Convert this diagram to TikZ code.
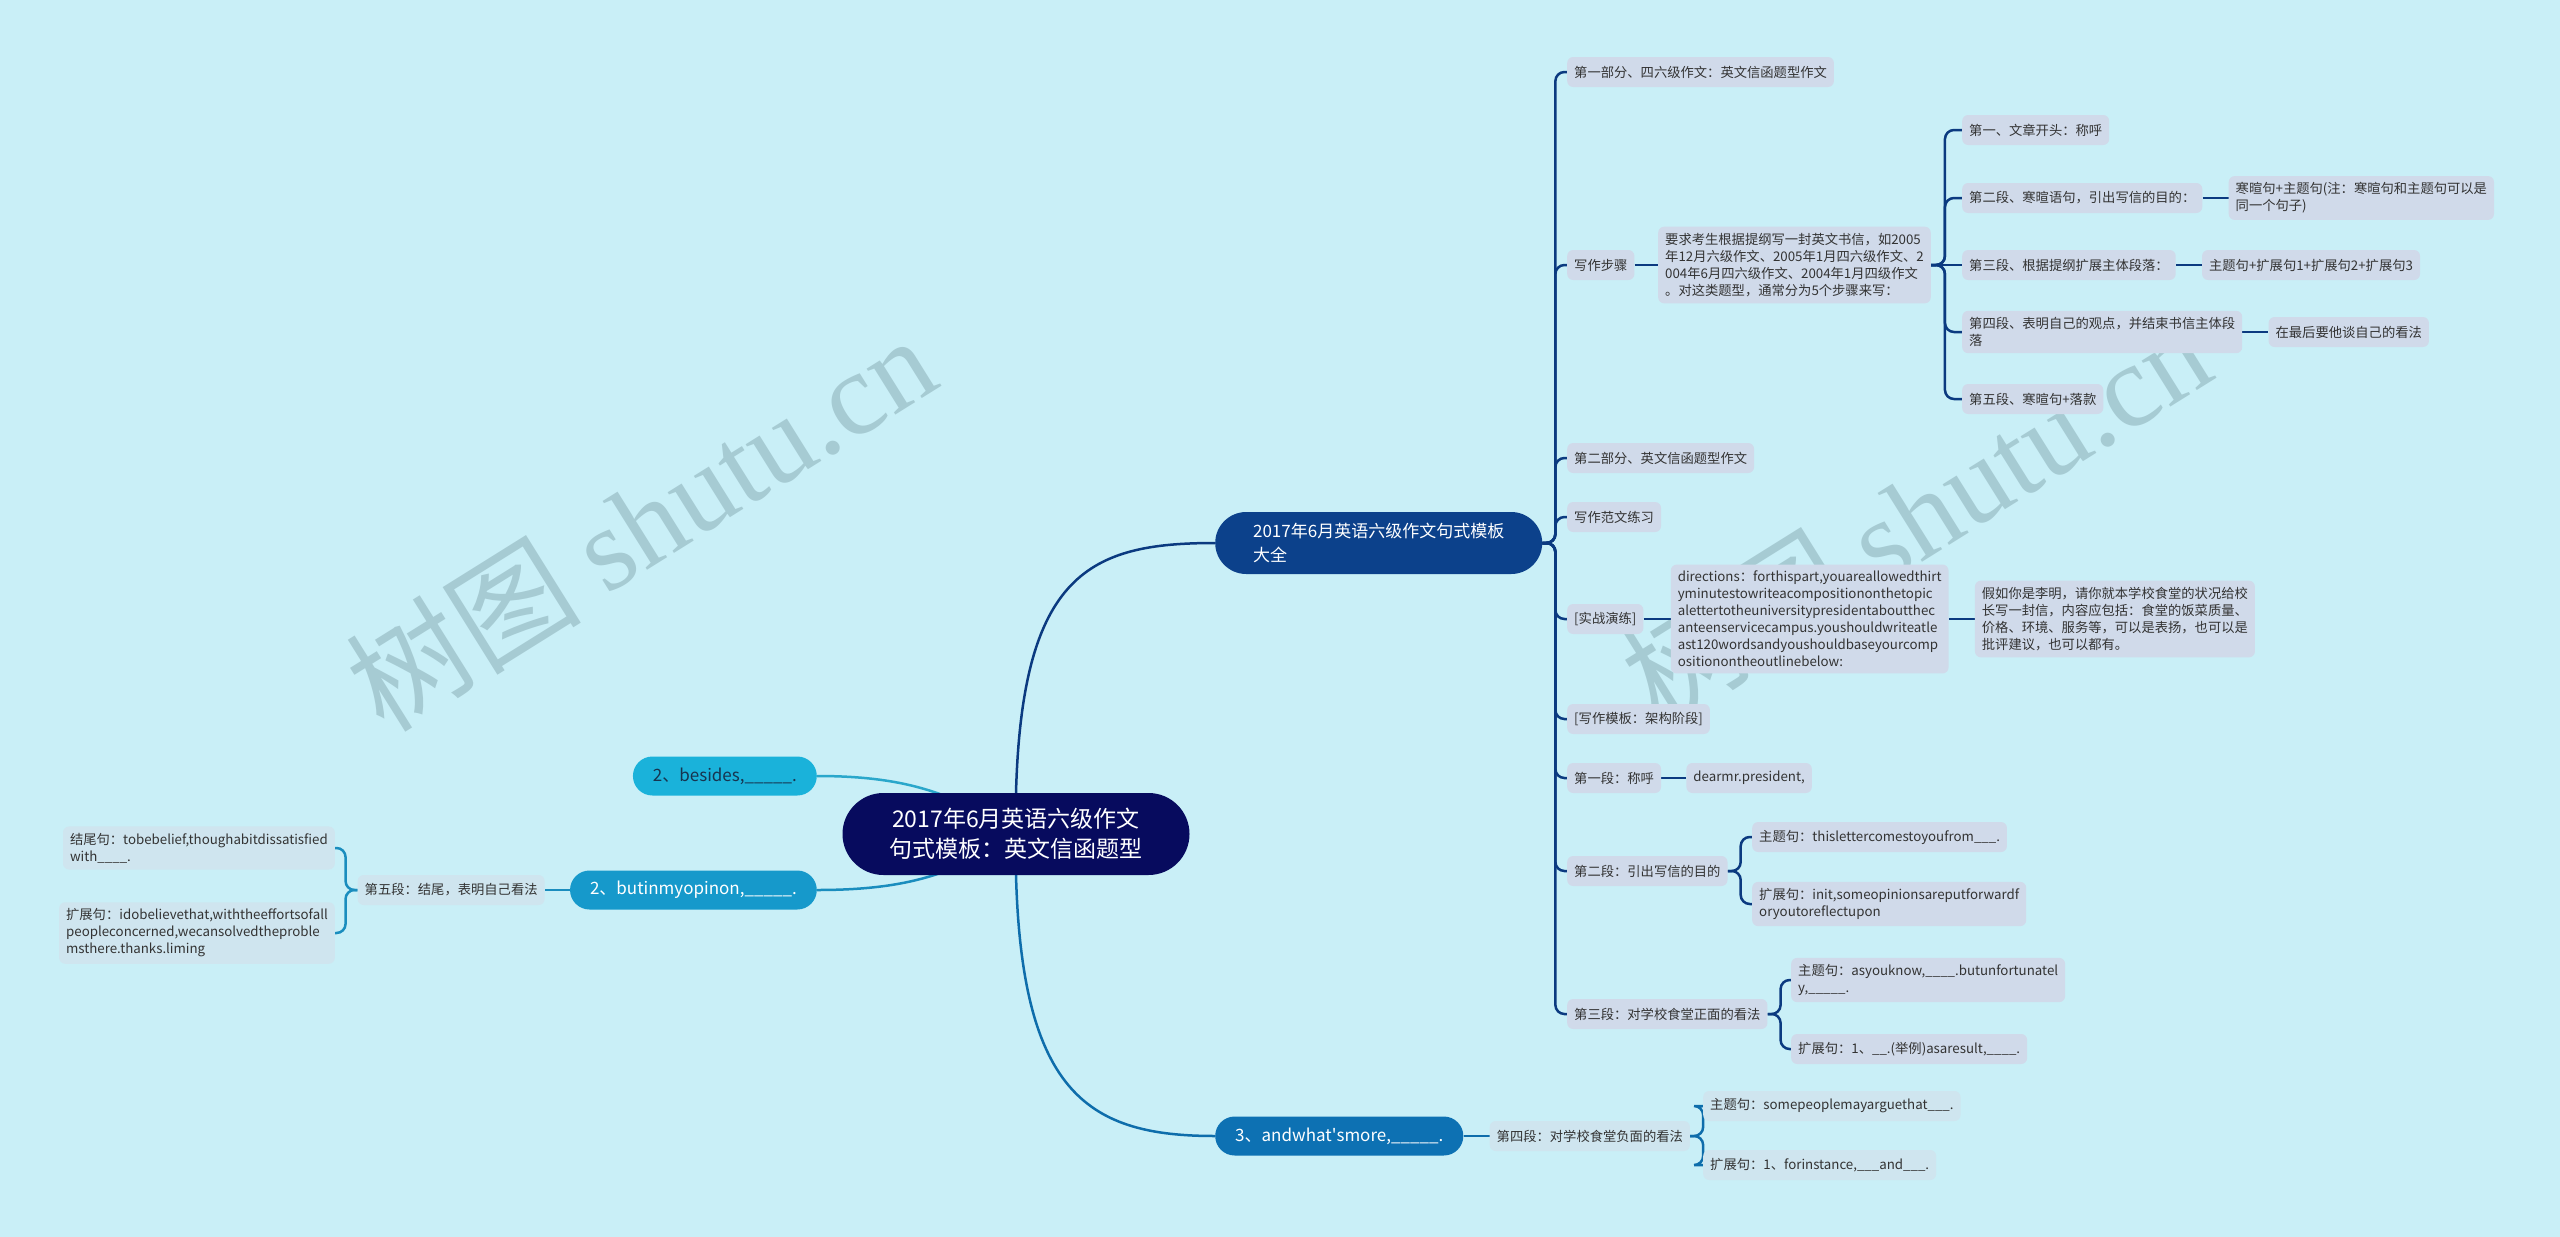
\documentclass[tikz,border=0pt]{standalone}
\usepackage{fontspec}
\setmainfont{Noto Sans CJK SC}
\newfontfamily\wmserif{Liberation Serif}
\newfontfamily\wmcjk{Noto Sans CJK SC}
\usetikzlibrary{backgrounds,positioning}
\definecolor{bgc}{HTML}{C9EFF7}
\definecolor{rootc}{HTML}{070B5E}
\definecolor{navyc}{HTML}{0C418B}
\definecolor{navyl}{HTML}{0B3A80}
\definecolor{cyanc}{HTML}{1AB2DA}
\definecolor{cyanl}{HTML}{2AA7CB}
\definecolor{midc}{HTML}{1699CB}
\definecolor{midl}{HTML}{1A8DBE}
\definecolor{bluec}{HTML}{0D71B3}
\definecolor{bluel}{HTML}{0E6DAB}
\definecolor{nfill}{HTML}{D0DAEA}
\definecolor{lfill}{HTML}{CFE5EF}
\definecolor{txt}{HTML}{333333}
\definecolor{bestxt}{HTML}{17344F}
\definecolor{wmc}{HTML}{8FB3BB}
\tikzset{
  rootn/.style={fill=rootc, text=white, rounded corners=41pt, minimum height=82pt,
    minimum width=347pt, align=center, font=\fontsize{23}{30}\selectfont, inner sep=0pt},
  pill/.style={font=\fontsize{17}{24}\selectfont, inner xsep=20pt, inner ysep=0pt, align=left},
  leaf/.style={fill=nfill, text=txt, rounded corners=6pt, inner xsep=7pt, inner ysep=6.5pt,
    align=left, font=\fontsize{13.3}{17}\selectfont, minimum height=30pt},
  leafl/.style={leaf, fill=lfill},
  navyln/.style={draw=navyl, line width=2.5pt, rounded corners=9pt},
  bluln/.style={draw=bluel, line width=2.5pt, rounded corners=9pt},
  midln/.style={draw=midl, line width=2.5pt, rounded corners=9pt},
  cyaln/.style={draw=cyanl, line width=2.5pt},
  curv/.style={line width=2.5pt},
  wmark/.style={text=wmc, opacity=0.6, rotate=32, inner sep=0pt}
}
\begin{document}
\begin{tikzpicture}[x=1pt,y=-1pt]
\useasboundingbox (0,0) rectangle (2560,1237);
\begin{scope}[on background layer]
\fill[bgc] (0,0) rectangle (2560,1237);
\node[wmark] (wm1) at (640,522) {\fontsize{118}{118}\selectfont\wmcjk 树图 \wmserif shutu.cn};
\node[wmark] (wm2) at (1915,514) {\fontsize{118}{118}\selectfont\wmcjk 树图 \wmserif shutu.cn};
\end{scope}

% root and main branches
\node[rootn] (root) at (1016,834) {2017年6月英语六级作文\\句式模板：英文信函题型};
\node[pill, fill=navyc, text=white, minimum width=327pt, minimum height=62pt,
  rounded corners=31pt, anchor=west] (b1) at (1215,543) {2017年6月英语六级作文句式模板\\大全};
\node[pill, fill=cyanc, text=bestxt, minimum width=182pt, minimum height=39pt,
  rounded corners=19.5pt, anchor=east] (bes) at (817,776) {2、besides,\_\_\_\_\_.};
\node[pill, fill=midc, text=white, minimum width=246pt, minimum height=39pt,
  rounded corners=19.5pt, anchor=east] (but) at (817,890) {2、butinmyopinon,\_\_\_\_\_.};
\node[pill, fill=bluec, text=white, minimum width=238pt, minimum height=39pt,
  rounded corners=19.5pt, anchor=west] (b4) at (1215,1136) {3、andwhat\textquotesingle smore,\_\_\_\_\_.};

% level 2 (right, navy)
\node[leaf, anchor=west] (a1) at (1567,72) {第一部分、四六级作文：英文信函题型作文};
\node[leaf, anchor=west] (a2) at (1567,265) {写作步骤};
\node[leaf, anchor=west] (a3) at (1567,458) {第二部分、英文信函题型作文};
\node[leaf, anchor=west] (a4) at (1567,517) {写作范文练习};
\node[leaf, anchor=west] (a5) at (1567,619) {[实战演练]};
\node[leaf, anchor=west] (a6) at (1567,719) {[写作模板：架构阶段]};
\node[leaf, anchor=west] (a7) at (1567,778) {第一段：称呼};
\node[leaf, anchor=west] (a8) at (1567,871) {第二段：引出写信的目的};
\node[leaf, anchor=west] (a9) at (1567,1014) {第三段：对学校食堂正面的看法};

% 写作步骤 subtree
\node[leaf, anchor=west] (s1) at (1658,265) {要求考生根据提纲写一封英文书信，如2005\\年12月六级作文、2005年1月四六级作文、2\\004年6月四六级作文、2004年1月四级作文\\。对这类题型，通常分为5个步骤来写：};
\node[leaf, anchor=west] (t1) at (1962,130) {第一、文章开头：称呼};
\node[leaf, anchor=west] (t2) at (1962,198) {第二段、寒暄语句，引出写信的目的：};
\node[leaf, anchor=west] (t3) at (1962,265) {第三段、根据提纲扩展主体段落：};
\node[leaf, anchor=west] (t4) at (1962,332) {第四段、表明自己的观点，并结束书信主体段\\落};
\node[leaf, anchor=west] (t5) at (1962,399) {第五段、寒暄句+落款};
\node[leaf, right=26pt of t2] (u2) {寒暄句+主题句(注：寒暄句和主题句可以是\\同一个句子)};
\node[leaf, right=26pt of t3] (u3) {主题句+扩展句1+扩展句2+扩展句3};
\node[leaf, right=26pt of t4] (u4) {在最后要他谈自己的看法};

% 实战演练 subtree
\node[leaf, right=27pt of a5] (dir) {directions：forthispart,youareallowedthirt\\yminutestowriteacompositiononthetopic\\alettertotheuniversitypresidentaboutthec\\anteenservicecampus.youshouldwriteatle\\ast120wordsandyoushouldbaseyourcomp\\ositionontheoutlinebelow:};
\node[leaf, right=26pt of dir] (jia) {假如你是李明，请你就本学校食堂的状况给校\\长写一封信，内容应包括：食堂的饭菜质量、\\价格、环境、服务等，可以是表扬，也可以是\\批评建议，也可以都有。};

% 第一段 / 第二段 / 第三段
\node[leaf, right=25pt of a7] (dear) {dearmr.president,};
\node[leaf, anchor=west] (p1) at (1752,837) {主题句：thislettercomestoyoufrom\_\_\_.};
\node[leaf, anchor=west] (p2) at (1752,904) {扩展句：init,someopinionsareputforwardf\\oryoutoreflectupon};
\node[leaf, anchor=west] (q1) at (1791,980) {主题句：asyouknow,\_\_\_\_.butunfortunatel\\y,\_\_\_\_\_.};
\node[leaf, anchor=west] (q2) at (1791,1049) {扩展句：1、\_\_.(举例)asaresult,\_\_\_\_.};

% 第四段 subtree
\node[leafl, right=26pt of b4] (d4) {第四段：对学校食堂负面的看法};
\node[leafl, anchor=west] (r1) at (1703,1106) {主题句：somepeoplemayarguethat\_\_\_.};
\node[leafl, anchor=west] (r2) at (1703,1165) {扩展句：1、forinstance,\_\_\_and\_\_\_.};

% 第五段 subtree (left)
\node[leafl, left=25pt of but] (d5) {第五段：结尾，表明自己看法};
\node[leafl, anchor=east] (e1) at (335,848) {结尾句：tobebelief,thoughabitdissatisfied\\with\_\_\_\_.};
\node[leafl, anchor=east] (e2) at (335,933) {扩展句：idobelievethat,withtheeffortsofall\\peopleconcerned,wecansolvedtheproble\\msthere.thanks.liming};

% connectors
\begin{scope}[on background layer]
\draw[curv, draw=navyl] (root.north) .. controls +(6,-220) and +(-125,0) .. (b1.west);
\draw[curv, draw=bluel] (root.south) .. controls +(6,220) and +(-125,0) .. (b4.west);
\draw[cyaln] (bes.east) .. controls +(90,0) and +(-60,-40) .. (root.center);
\draw[curv, draw=midl] (but.east) .. controls +(90,0) and +(-60,40) .. (root.center);

\foreach \n in {a1,a2,a3,a4,a5,a6,a7,a8,a9}
  \draw[navyln] (b1.east) -- ++(13,0) |- (\n.west);
\draw[navyln] (a2.east) -- (s1.west);
\foreach \n in {t1,t2,t4,t5}
  \draw[navyln] (s1.east) -- ++(14,0) |- (\n.west);
\draw[navyln] (s1.east) -- (t3.west);
\draw[navyln] (t2.east) -- (u2.west);
\draw[navyln] (t3.east) -- (u3.west);
\draw[navyln] (t4.east) -- (u4.west);
\draw[navyln] (a5.east) -- (dir.west);
\draw[navyln] (dir.east) -- (jia.west);
\draw[navyln] (a7.east) -- (dear.west);
\foreach \n in {p1,p2}
  \draw[navyln] (a8.east) -- ++(13,0) |- (\n.west);
\foreach \n in {q1,q2}
  \draw[navyln] (a9.east) -- ++(13,0) |- (\n.west);

\draw[bluln] (b4.east) -- (d4.west);
\foreach \n in {r1,r2}
  \draw[bluln] (d4.east) -- ++(13,0) |- (\n.west);

\draw[midln] (but.west) -- (d5.east);
\foreach \n in {e1,e2}
  \draw[midln] (d5.west) -- ++(-12,0) |- (\n.east);
\end{scope}
\end{tikzpicture}
\end{document}
